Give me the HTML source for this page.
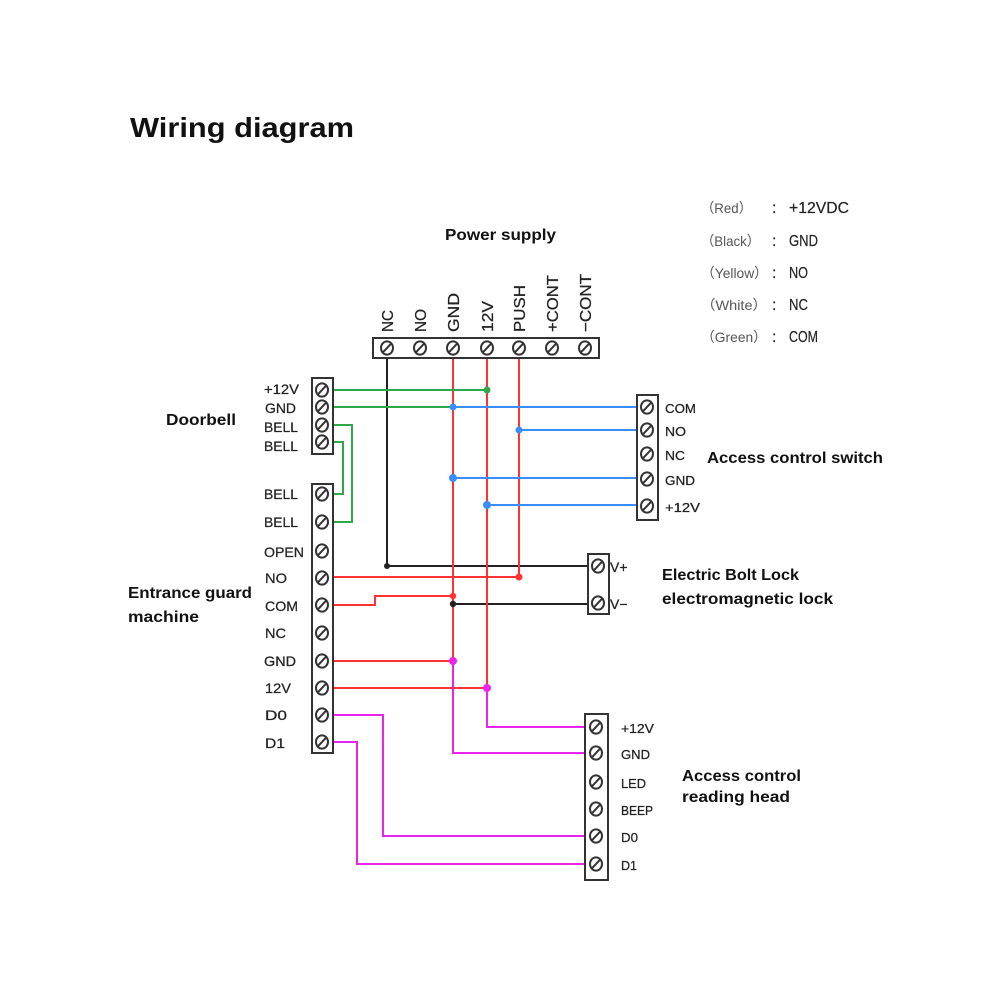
<!DOCTYPE html>
<html>
<head>
<meta charset="utf-8">
<style>
html,body{margin:0;padding:0;background:#fff;}
svg{display:block;}
.b{font-family:"Liberation Sans",sans-serif;font-weight:bold;fill:#111;}
.s{font-family:"Liberation Sans",sans-serif;font-size:14px;fill:#222;stroke:#222;stroke-width:0.25;}
.t{font-family:"Liberation Sans",sans-serif;font-size:13px;fill:#222;stroke:#222;stroke-width:0.25;}
.lg{font-family:"Liberation Sans","Noto Sans CJK SC",sans-serif;font-size:14px;fill:#555;}
.lv{font-family:"Liberation Sans",sans-serif;font-size:16px;fill:#222;stroke:#222;stroke-width:0.2;}
.box{fill:#fff;stroke:#333;stroke-width:2;}
.sc ellipse{fill:#fff;stroke:#333;stroke-width:2;}
.sc line{stroke:#333;stroke-width:2;}
.w{fill:none;stroke-width:2;stroke-linejoin:miter;}
.r{stroke:#ff3333;}
.g{stroke:#2fa84a;}
.bl{stroke:#3a8cff;}
.m{stroke:#ee22ee;}
.k{stroke:#222;}
</style>
</head>
<body>
<svg width="1000" height="1000" viewBox="0 0 1000 1000" xmlns="http://www.w3.org/2000/svg">
<defs>
  <g id="scr" class="sc"><ellipse cx="0" cy="0" rx="6" ry="6.6"/><line x1="-4.3" y1="4.6" x2="4.3" y2="-4.6"/></g>
</defs>

<!-- Titles -->
<text class="b" x="130" y="137" font-size="28" textLength="224" lengthAdjust="spacingAndGlyphs">Wiring diagram</text>
<text class="b" x="445" y="240" font-size="16" textLength="111" lengthAdjust="spacingAndGlyphs">Power supply</text>
<text class="b" x="166" y="425" font-size="16" textLength="70" lengthAdjust="spacingAndGlyphs">Doorbell</text>
<text class="b" x="128" y="598" font-size="16" textLength="124" lengthAdjust="spacingAndGlyphs">Entrance guard</text>
<text class="b" x="128" y="622" font-size="16" textLength="71" lengthAdjust="spacingAndGlyphs">machine</text>
<text class="b" x="707" y="463" font-size="16" textLength="176" lengthAdjust="spacingAndGlyphs">Access control switch</text>
<text class="b" x="662" y="580" font-size="16" textLength="137" lengthAdjust="spacingAndGlyphs">Electric Bolt Lock</text>
<text class="b" x="662" y="604" font-size="16" textLength="171" lengthAdjust="spacingAndGlyphs">electromagnetic lock</text>
<text class="b" x="682" y="781" font-size="16" textLength="119" lengthAdjust="spacingAndGlyphs">Access control</text>
<text class="b" x="682" y="802" font-size="16" textLength="108" lengthAdjust="spacingAndGlyphs">reading head</text>

<!-- Legend -->
<text class="lg" x="701" y="213" textLength="51" lengthAdjust="spacingAndGlyphs">（Red）</text>
<text class="lg" x="701" y="246" textLength="59" lengthAdjust="spacingAndGlyphs">（Black）</text>
<text class="lg" x="701" y="278" textLength="67" lengthAdjust="spacingAndGlyphs">（Yellow）</text>
<text class="lg" x="701" y="310" textLength="66" lengthAdjust="spacingAndGlyphs">（White）</text>
<text class="lg" x="701" y="342" textLength="66" lengthAdjust="spacingAndGlyphs">（Green）</text>
<text class="lv" x="772" y="213">:</text>
<text class="lv" x="772" y="246">:</text>
<text class="lv" x="772" y="278">:</text>
<text class="lv" x="772" y="310">:</text>
<text class="lv" x="772" y="342">:</text>
<text class="lv" x="789" y="213" textLength="60" lengthAdjust="spacingAndGlyphs">+12VDC</text>
<text class="lv" x="789" y="246" textLength="29" lengthAdjust="spacingAndGlyphs">GND</text>
<text class="lv" x="789" y="278" textLength="19" lengthAdjust="spacingAndGlyphs">NO</text>
<text class="lv" x="789" y="310" textLength="19" lengthAdjust="spacingAndGlyphs">NC</text>
<text class="lv" x="789" y="342" textLength="29" lengthAdjust="spacingAndGlyphs">COM</text>

<!-- Wires -->
<polyline class="w k" points="387,358 387,566 588,566"/>
<polyline class="w k" points="453,604 588,604"/>
<polyline class="w r" points="453,358 453,661"/>
<polyline class="w r" points="487,358 487,688"/>
<polyline class="w r" points="519,358 519,577"/>
<polyline class="w r" points="333,577 519,577"/>
<polyline class="w r" points="333,605 375,605 375,596 453,596"/>
<polyline class="w r" points="333,661 453,661"/>
<polyline class="w r" points="333,688 487,688"/>
<polyline class="w m" points="453,661 453,753 585,753"/>
<polyline class="w m" points="487,688 487,727 585,727"/>
<polyline class="w m" points="333,715 383,715 383,836 585,836"/>
<polyline class="w m" points="333,742 357,742 357,864 585,864"/>
<polyline class="w g" points="333,390 487,390"/>
<polyline class="w g" points="333,407 453,407"/>
<polyline class="w g" points="333,425 352,425 352,522 333,522"/>
<polyline class="w g" points="333,442 343,442 343,494 333,494"/>
<polyline class="w bl" points="453,407 636,407"/>
<polyline class="w bl" points="519,430 636,430"/>
<polyline class="w bl" points="453,478 636,478"/>
<polyline class="w bl" points="487,505 636,505"/>

<!-- Dots -->
<circle cx="487" cy="390" r="3.5" fill="#2fa84a"/>
<circle cx="453" cy="407" r="3.5" fill="#3a8cff"/>
<circle cx="519" cy="430" r="3.5" fill="#3a8cff"/>
<circle cx="453" cy="478" r="4" fill="#3a8cff"/>
<circle cx="487" cy="505" r="4" fill="#3a8cff"/>
<circle cx="387" cy="566" r="3" fill="#222"/>
<circle cx="519" cy="577" r="3.5" fill="#ff3333"/>
<circle cx="453" cy="596" r="3.2" fill="#ff3333"/>
<circle cx="453" cy="604" r="3.2" fill="#222"/>
<circle cx="453" cy="661" r="4" fill="#ee22ee"/>
<circle cx="487" cy="688" r="4" fill="#ee22ee"/>

<!-- Power supply block -->
<rect class="box" x="373" y="338" width="226" height="20"/>
<use href="#scr" x="387" y="348"/>
<use href="#scr" x="420" y="348"/>
<use href="#scr" x="453" y="348"/>
<use href="#scr" x="487" y="348"/>
<use href="#scr" x="519" y="348"/>
<use href="#scr" x="552" y="348"/>
<use href="#scr" x="585" y="348"/>
<g class="s">
  <text transform="translate(393,332) rotate(-90)" font-size="16" textLength="22" lengthAdjust="spacingAndGlyphs">NC</text>
  <text transform="translate(426,332) rotate(-90)" font-size="16" textLength="23" lengthAdjust="spacingAndGlyphs">NO</text>
  <text transform="translate(459,332) rotate(-90)" font-size="16" textLength="39" lengthAdjust="spacingAndGlyphs">GND</text>
  <text transform="translate(493,332) rotate(-90)" font-size="16" textLength="31" lengthAdjust="spacingAndGlyphs">12V</text>
  <text transform="translate(525,332) rotate(-90)" font-size="16" textLength="47" lengthAdjust="spacingAndGlyphs">PUSH</text>
  <text transform="translate(558,332) rotate(-90)" font-size="16" textLength="57" lengthAdjust="spacingAndGlyphs">+CONT</text>
  <text transform="translate(591,332) rotate(-90)" font-size="16" textLength="58" lengthAdjust="spacingAndGlyphs">−CONT</text>
</g>

<!-- Doorbell block -->
<rect class="box" x="312" y="378" width="21" height="76"/>
<use href="#scr" x="322" y="390"/>
<use href="#scr" x="322" y="407"/>
<use href="#scr" x="322" y="425"/>
<use href="#scr" x="322" y="442"/>
<text class="s" x="264" y="394" textLength="35" lengthAdjust="spacingAndGlyphs">+12V</text>
<text class="s" x="265" y="413" textLength="31" lengthAdjust="spacingAndGlyphs">GND</text>
<text class="s" x="264" y="432" textLength="34" lengthAdjust="spacingAndGlyphs">BELL</text>
<text class="s" x="264" y="451" textLength="34" lengthAdjust="spacingAndGlyphs">BELL</text>

<!-- Entrance guard machine block -->
<rect class="box" x="312" y="484" width="21" height="269"/>
<use href="#scr" x="322" y="494"/>
<use href="#scr" x="322" y="522"/>
<use href="#scr" x="322" y="551"/>
<use href="#scr" x="322" y="578"/>
<use href="#scr" x="322" y="605"/>
<use href="#scr" x="322" y="633"/>
<use href="#scr" x="322" y="661"/>
<use href="#scr" x="322" y="688"/>
<use href="#scr" x="322" y="715"/>
<use href="#scr" x="322" y="742"/>
<text class="s" x="264" y="499" textLength="34" lengthAdjust="spacingAndGlyphs">BELL</text>
<text class="s" x="264" y="527" textLength="34" lengthAdjust="spacingAndGlyphs">BELL</text>
<text class="s" x="264" y="557" textLength="40" lengthAdjust="spacingAndGlyphs">OPEN</text>
<text class="s" x="265" y="583" textLength="22" lengthAdjust="spacingAndGlyphs">NO</text>
<text class="s" x="265" y="611" textLength="33" lengthAdjust="spacingAndGlyphs">COM</text>
<text class="s" x="265" y="638" textLength="21" lengthAdjust="spacingAndGlyphs">NC</text>
<text class="s" x="264" y="666" textLength="32" lengthAdjust="spacingAndGlyphs">GND</text>
<text class="s" x="265" y="693" textLength="26" lengthAdjust="spacingAndGlyphs">12V</text>
<text class="s" x="265" y="720" textLength="22" lengthAdjust="spacingAndGlyphs">D0</text>
<text class="s" x="265" y="748" textLength="20" lengthAdjust="spacingAndGlyphs">D1</text>

<!-- Access control switch block -->
<rect class="box" x="637" y="395" width="21" height="125"/>
<use href="#scr" x="647" y="407"/>
<use href="#scr" x="647" y="430"/>
<use href="#scr" x="647" y="454"/>
<use href="#scr" x="647" y="479"/>
<use href="#scr" x="647" y="506"/>
<text class="t" x="665" y="413" textLength="31" lengthAdjust="spacingAndGlyphs">COM</text>
<text class="t" x="665" y="436" textLength="21" lengthAdjust="spacingAndGlyphs">NO</text>
<text class="t" x="665" y="460" textLength="20" lengthAdjust="spacingAndGlyphs">NC</text>
<text class="t" x="665" y="485" textLength="30" lengthAdjust="spacingAndGlyphs">GND</text>
<text class="t" x="665" y="512" textLength="35" lengthAdjust="spacingAndGlyphs">+12V</text>

<!-- Electric lock block -->
<rect class="box" x="588" y="554" width="21" height="60"/>
<use href="#scr" x="598" y="566"/>
<use href="#scr" x="598" y="603"/>
<text class="s" x="610" y="572" font-size="16">V+</text>
<text class="s" x="610" y="609" font-size="16">V−</text>

<!-- Reading head block -->
<rect class="box" x="585" y="714" width="23" height="166"/>
<use href="#scr" x="596" y="727"/>
<use href="#scr" x="596" y="753"/>
<use href="#scr" x="596" y="782"/>
<use href="#scr" x="596" y="809"/>
<use href="#scr" x="596" y="836"/>
<use href="#scr" x="596" y="864"/>
<text class="t" x="621" y="733" textLength="33" lengthAdjust="spacingAndGlyphs">+12V</text>
<text class="t" x="621" y="759" textLength="29" lengthAdjust="spacingAndGlyphs">GND</text>
<text class="t" x="621" y="788" textLength="25" lengthAdjust="spacingAndGlyphs">LED</text>
<text class="t" x="621" y="815" textLength="32" lengthAdjust="spacingAndGlyphs">BEEP</text>
<text class="t" x="621" y="842" textLength="17" lengthAdjust="spacingAndGlyphs">D0</text>
<text class="t" x="621" y="870" textLength="16" lengthAdjust="spacingAndGlyphs">D1</text>
</svg>
</body>
</html>
